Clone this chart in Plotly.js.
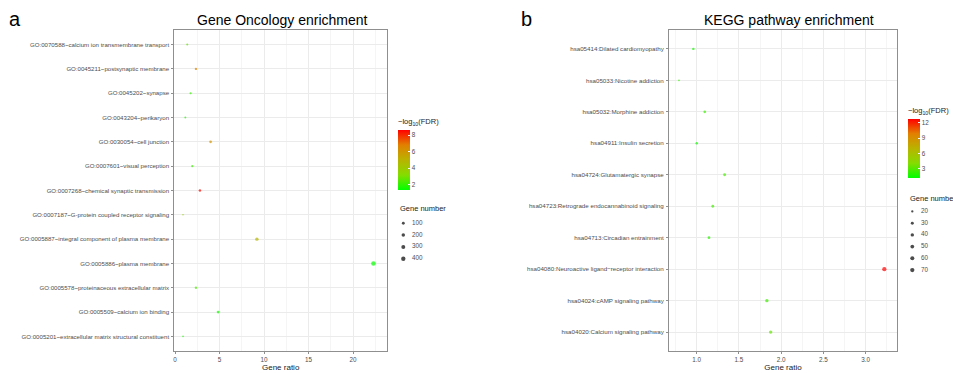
<!DOCTYPE html>
<html>
<head>
<meta charset="utf-8">
<script src="https://cdn.plot.ly/plotly-3.0.1.min.js"></script>
<style>html,body{margin:0;padding:0;background:#fff}#chart{width:953px;height:373px}</style>
</head>
<body>
<div id="chart"></div>
<script>
// ---------- GO (panel a), listed top to bottom ----------
const goTerms = [
  "GO:0070588~calcium ion transmembrane transport",
  "GO:0045211~postsynaptic membrane",
  "GO:0045202~synapse",
  "GO:0043204~perikaryon",
  "GO:0030054~cell junction",
  "GO:0007601~visual perception",
  "GO:0007268~chemical synaptic transmission",
  "GO:0007187~G-protein coupled receptor signaling",
  "GO:0005887~integral component of plasma membrane",
  "GO:0005886~plasma membrane",
  "GO:0005578~proteinaceous extracellular matrix",
  "GO:0005509~calcium ion binding",
  "GO:0005201~extracellular matrix structural constituent"
];
const goRatio   = [1.38, 2.35, 1.75, 1.16, 4.0, 1.94, 2.8, 0.9, 9.2, 22.3, 2.35, 4.85, 0.9];
const goLogFDR  = [2.6, 6.6, 2.0, 1.8, 6.1, 2.1, 8.5, 3.6, 4.8, 1.3, 2.3, 1.5, 1.7];
const goCount   = [29, 49, 37, 24, 84, 41, 59, 19, 193, 468, 49, 102, 19];

// ---------- KEGG (panel b), listed top to bottom ----------
const keggTerms = [
  "hsa05414:Dilated cardiomyopathy",
  "hsa05033:Nicotine addiction",
  "hsa05032:Morphine addiction",
  "hsa04911:Insulin secretion",
  "hsa04724:Glutamatergic synapse",
  "hsa04723:Retrograde endocannabinoid signaling",
  "hsa04713:Circadian entrainment",
  "hsa04080:Neuroactive ligand\u2212receptor interaction",
  "hsa04024:cAMP signaling pathway",
  "hsa04020:Calcium signaling pathway"
];
const keggRatio  = [0.96, 0.79, 1.095, 1.0, 1.33, 1.19, 1.145, 3.22, 1.83, 1.875];
const keggLogFDR = [1.5, 2.2, 2.3, 1.3, 2.6, 2.5, 1.9, 12.7, 2.4, 3.2];
const keggCount  = [21, 17, 24, 22, 29, 26, 25, 70, 39, 40];

// ---------- legend breaks ----------
const goCbTicks = [2, 4, 6, 8];
const keggCbTicks = [3, 6, 9, 12];
const goSizeBreaks = [100, 200, 300, 400];
const keggSizeBreaks = [20, 30, 40, 50, 60, 70];

// ---------- layout helpers ----------
const W = 953, H = 373;
const px = v => v / W;
const py = v => (H - v) / H;
const FONT = 'Arial, "Liberation Sans", sans-serif';
const TXT = '#4d4d4d';
const cscale = [[0,'#00FF00'],[0.25,'#86DC00'],[0.5,'#B9B300'],[0.75,'#E28000'],[1,'#FF0000']];
// area-type size scale (like ggplot's scale_size): diameter grows with sqrt of rescaled value
function sizeScale(values, dMin, dMax) {
  const lo = Math.min(...values), hi = Math.max(...values);
  return n => dMin + (dMax - dMin) * Math.sqrt(Math.max(0, (n - lo) / (hi - lo)));
}
const goDiam = sizeScale(goCount, 1.6, 4.6);
const keggDiam = sizeScale(keggCount, 1.7, 4.3);

const axisCommon = {
  showline: true, mirror: true, linecolor: '#8f8f8f', linewidth: 1,
  ticks: 'outside', ticklen: 2, tickcolor: '#8f8f8f', tickwidth: 1,
  showgrid: true, gridcolor: '#ebebeb', gridwidth: 1, zeroline: false,
  fixedrange: true
};
const tickFontX = {family: FONT, size: 6.3, color: '#4d4d4d'};

const traces = [
  {
    type: 'scatter', mode: 'markers', x: goRatio, y: goTerms, xaxis: 'x', yaxis: 'y',
    marker: {
      size: goCount.map(goDiam), sizemode: 'diameter', color: goLogFDR,
      colorscale: cscale, cmin: 1.25, cmax: 8.6, line: {width: 0},
      showscale: true,
      colorbar: {
        x: px(398), xanchor: 'left', y: py(190.7), yanchor: 'bottom',
        thickness: 12, thicknessmode: 'pixels', len: 75, lenmode: 'pixels',
        xpad: 0, ypad: 0, outlinewidth: 0,
        tickvals: goCbTicks, ticks: 'inside', ticklen: 2, tickcolor: '#ffffff',
        tickfont: {family: FONT, size: 6.3, color: TXT},
        title: {text: '\u2212log<sub>10</sub>(FDR)', side: 'top', font: {family: FONT, size: 7.5, color: '#222'}}
      }
    },
    showlegend: false, hoverinfo: 'skip'
  },
  {
    type: 'scatter', mode: 'markers', x: keggRatio, y: keggTerms, xaxis: 'x2', yaxis: 'y2',
    marker: {
      size: keggCount.map(keggDiam), sizemode: 'diameter', color: keggLogFDR,
      colorscale: cscale, cmin: 1.0, cmax: 12.7, line: {width: 0},
      showscale: true,
      colorbar: {
        x: px(908), xanchor: 'left', y: py(178.7), yanchor: 'bottom',
        thickness: 12, thicknessmode: 'pixels', len: 74, lenmode: 'pixels',
        xpad: 0, ypad: 0, outlinewidth: 0,
        tickvals: keggCbTicks, ticks: 'inside', ticklen: 2, tickcolor: '#ffffff',
        tickfont: {family: FONT, size: 6.3, color: TXT},
        title: {text: '\u2212log<sub>10</sub>(FDR)', side: 'top', font: {family: FONT, size: 7.5, color: '#222'}}
      }
    },
    showlegend: false, hoverinfo: 'skip'
  },
  // size legend, panel a
  {
    type: 'scatter', mode: 'markers', x: goSizeBreaks.map(() => 0), y: goSizeBreaks.map((b, i) => i),
    xaxis: 'x3', yaxis: 'y3',
    marker: {size: goSizeBreaks.map(goDiam), color: '#000', line: {width: 0}},
    showlegend: false, hoverinfo: 'skip'
  },
  {
    type: 'scatter', mode: 'text', x: goSizeBreaks.map(() => 1), y: goSizeBreaks.map((b, i) => i),
    text: goSizeBreaks.map(String), textposition: 'middle right',
    textfont: {family: FONT, size: 6.3, color: TXT}, marker: {size: 1},
    xaxis: 'x3', yaxis: 'y3', showlegend: false, hoverinfo: 'skip'
  },
  // size legend, panel b
  {
    type: 'scatter', mode: 'markers', x: keggSizeBreaks.map(() => 0), y: keggSizeBreaks.map((b, i) => i),
    xaxis: 'x4', yaxis: 'y4',
    marker: {size: keggSizeBreaks.map(keggDiam), color: '#000', line: {width: 0}},
    showlegend: false, hoverinfo: 'skip'
  },
  {
    type: 'scatter', mode: 'text', x: keggSizeBreaks.map(() => 1), y: keggSizeBreaks.map((b, i) => i),
    text: keggSizeBreaks.map(String), textposition: 'middle right',
    textfont: {family: FONT, size: 6.3, color: TXT}, marker: {size: 1},
    xaxis: 'x4', yaxis: 'y4', showlegend: false, hoverinfo: 'skip'
  }
];

const hidden = {visible: false, fixedrange: true};
const layout = {
  width: W, height: H, margin: {l: 0, r: 0, t: 0, b: 0},
  paper_bgcolor: '#ffffff', plot_bgcolor: '#ffffff',
  font: {family: FONT, color: TXT},
  xaxis: Object.assign({}, axisCommon, {
    domain: [px(174.3), px(387)], range: [-0.08, 23.82],
    tickvals: [0, 5, 10, 15, 20], tickfont: tickFontX,
    minor: {dtick: 2.5, tick0: 0, showgrid: true, gridcolor: '#f5f5f5', ticks: ''},
    anchor: 'y',
    title: {text: 'Gene ratio', standoff: 2, font: {family: FONT, size: 8, color: '#222'}}
  }),
  yaxis: Object.assign({}, axisCommon, {
    domain: [py(351), py(30)], type: 'category', categoryorder: 'array', categoryarray: goTerms,
    range: [goTerms.length - 0.4, -0.6], anchor: 'x', ticklabelstandoff: 1,
    tickfont: {family: FONT, size: 6.1, color: TXT}
  }),
  xaxis2: Object.assign({}, axisCommon, {
    domain: [px(669), px(897)], range: [0.672, 3.37],
    tickvals: [1.0, 1.5, 2.0, 2.5, 3.0], ticktext: ['1.0','1.5','2.0','2.5','3.0'], tickfont: tickFontX,
    minor: {dtick: 0.25, tick0: 0.75, showgrid: true, gridcolor: '#f5f5f5', ticks: ''},
    anchor: 'y2',
    title: {text: 'Gene ratio', standoff: 2, font: {family: FONT, size: 8, color: '#222'}}
  }),
  yaxis2: Object.assign({}, axisCommon, {
    domain: [py(351), py(30)], type: 'category', categoryorder: 'array', categoryarray: keggTerms,
    range: [keggTerms.length - 0.4, -0.6], anchor: 'x2', ticklabelstandoff: 1,
    tickfont: {family: FONT, size: 6.2, color: TXT}
  }),
  xaxis3: Object.assign({}, hidden, {domain: [px(398), px(440)], range: [-0.61, 4.22], anchor: 'y3'}),
  yaxis3: Object.assign({}, hidden, {domain: [py(265), py(217)], range: [3.53, -0.53], anchor: 'x3'}),
  xaxis4: Object.assign({}, hidden, {domain: [px(907), px(950)], range: [-0.61, 4.33], anchor: 'y4'}),
  yaxis4: Object.assign({}, hidden, {domain: [py(276.5), py(205)], range: [5.55, -0.55], anchor: 'x4'}),
  annotations: [
    {text: 'a', x: px(15), y: py(19), xref: 'paper', yref: 'paper', xanchor: 'center', yanchor: 'middle',
     showarrow: false, font: {family: FONT, size: 20, color: '#000'}},
    {text: 'b', x: px(526), y: py(19), xref: 'paper', yref: 'paper', xanchor: 'center', yanchor: 'middle',
     showarrow: false, font: {family: FONT, size: 20, color: '#000'}},
    {text: 'Gene Oncology enrichment', x: px(282.5), y: py(20), xref: 'paper', yref: 'paper',
     xanchor: 'center', yanchor: 'middle', showarrow: false, font: {family: FONT, size: 14, color: '#000'}},
    {text: 'KEGG pathway enrichment', x: px(788.5), y: py(20), xref: 'paper', yref: 'paper',
     xanchor: 'center', yanchor: 'middle', showarrow: false, font: {family: FONT, size: 14, color: '#000'}},
    {text: 'Gene number', x: px(398), y: py(209), xref: 'paper', yref: 'paper',
     xanchor: 'left', yanchor: 'middle', showarrow: false, font: {family: FONT, size: 7.5, color: '#222'}},
    {text: 'Gene number', x: px(908), y: py(198.7), xref: 'paper', yref: 'paper',
     xanchor: 'left', yanchor: 'middle', showarrow: false, font: {family: FONT, size: 7.5, color: '#222'}}
  ]
};

Plotly.newPlot('chart', traces, layout, {staticPlot: true, displayModeBar: false});
</script>
</body>
</html>
